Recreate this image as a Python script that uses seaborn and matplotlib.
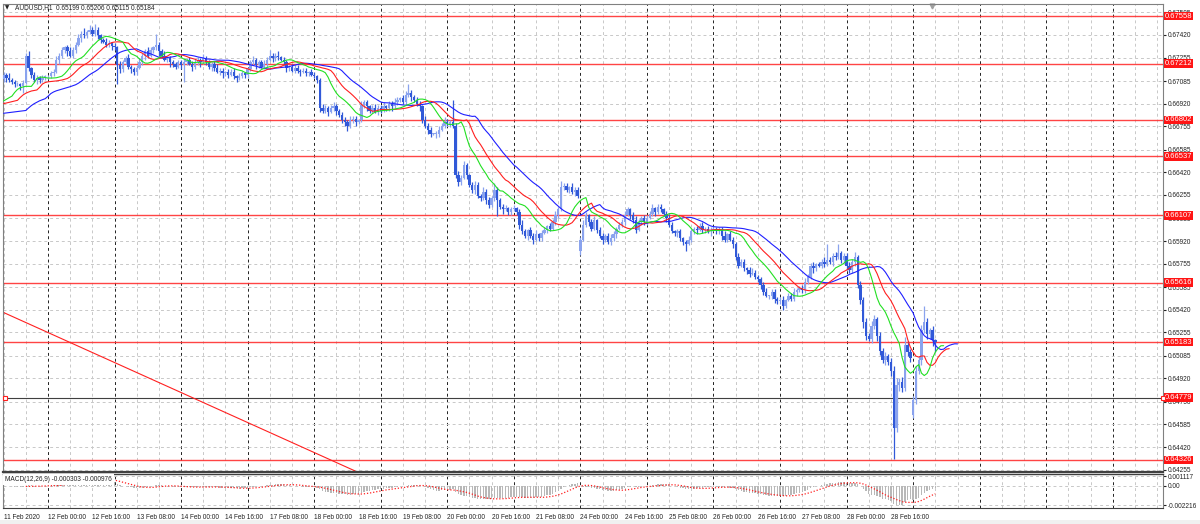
import numpy as np
import pandas as pd
import matplotlib
matplotlib.use("Agg")
import matplotlib.pyplot as plt
from matplotlib.patches import Rectangle
import seaborn as sns

# ==========================================
# DATA (hourly AUDUSD, prices in pips: 6712 -> 0.6712)
# ==========================================

close_feb11 = [6713, 6711, 6709, 6708, 6706, 6706, 6705, 6707, 6727, 6718, 6713, 6709, 6711, 6709, 6711, 6712]
close_feb12 = [6712, 6714, 6715, 6724, 6727, 6731, 6733, 6730, 6727, 6731, 6735, 6740, 6743, 6742, 6744, 6746, 6743, 6746, 6742, 6738, 6737, 6735, 6736, 6734]
close_feb13 = [6733, 6720, 6717, 6722, 6725, 6719, 6717, 6715, 6718, 6722, 6727, 6730, 6727, 6731, 6733, 6735, 6730, 6727, 6724, 6725, 6722, 6721, 6719, 6722]
close_feb14 = [6720, 6722, 6724, 6721, 6719, 6722, 6724, 6722, 6725, 6722, 6719, 6721, 6718, 6715, 6716, 6714, 6715, 6713, 6715, 6712, 6711, 6712, 6714, 6713]
close_feb17 = [6717, 6722, 6724, 6720, 6722, 6719, 6721, 6724, 6727, 6725, 6727, 6726, 6724, 6722, 6718, 6719, 6716, 6718, 6716, 6715, 6716, 6714, 6715, 6713]
close_feb18 = [6712, 6709, 6689, 6687, 6689, 6686, 6689, 6690, 6687, 6684, 6680, 6679, 6676, 6680, 6681, 6679, 6680, 6691, 6693, 6690, 6687, 6689, 6686, 6689]
close_feb19 = [6687, 6690, 6689, 6692, 6690, 6693, 6695, 6696, 6693, 6698, 6700, 6697, 6695, 6692, 6690, 6680, 6676, 6673, 6670, 6670, 6670, 6673, 6676, 6679]
close_feb20 = [6677, 6679, 6676, 6640, 6635, 6638, 6647, 6640, 6633, 6629, 6633, 6625, 6623, 6628, 6622, 6618, 6623, 6629, 6622, 6617, 6615, 6616, 6613, 6615]
close_feb21 = [6616, 6613, 6604, 6599, 6596, 6600, 6596, 6593, 6597, 6594, 6598, 6600, 6603, 6601, 6606, 6611, 6615, 6631, 6632, 6629, 6631, 6628, 6629, 6625]
close_feb24 = [6593, 6604, 6611, 6606, 6601, 6607, 6600, 6596, 6593, 6596, 6591, 6594, 6597, 6601, 6604, 6606, 6611, 6615, 6611, 6607, 6600, 6606, 6609, 6606]
close_feb25 = [6609, 6612, 6616, 6613, 6617, 6615, 6612, 6609, 6604, 6599, 6598, 6599, 6594, 6591, 6590, 6593, 6599, 6601, 6600, 6603, 6600, 6601, 6599, 6600]
close_feb26 = [6601, 6599, 6600, 6596, 6593, 6597, 6593, 6590, 6580, 6574, 6577, 6572, 6571, 6568, 6569, 6566, 6564, 6560, 6555, 6552, 6552, 6555, 6550, 6548]
close_feb27 = [6549, 6545, 6549, 6552, 6550, 6555, 6556, 6558, 6556, 6562, 6566, 6574, 6572, 6575, 6574, 6577, 6575, 6578, 6577, 6581, 6580, 6583, 6578, 6581]
close_feb28 = [6574, 6571, 6577, 6580, 6560, 6549, 6533, 6523, 6521, 6530, 6535, 6523, 6512, 6505, 6508, 6504, 6497, 6456, 6487, 6489, 6485, 6516, 6511, 6507]
close_mar02 = [6476, 6497, 6505, 6527, 6533, 6524, 6527, 6519.9, 6518.4]

first_open = 6710
gap_bars = [208, 328]          # week opens (24 Feb, 2 Mar)
gap_opens = [6585, 6465]

# wick sizes above / below the body, in pips
up_wick = [2, 1, 3, 2, 1, 2, 1, 2, 2, 3, 1, 2, 2, 1, 2, 1,
           1, 2, 2, 3, 2, 2, 1, 2, 3, 2, 2, 3, 2, 4, 2, 3, 2, 4, 2, 1, 2, 3, 2, 1,
           2, 1, 3, 2, 2, 3, 1, 2, 2, 3, 2, 2, 3, 2, 1, 8, 2, 2, 3, 1, 2, 2, 1, 2,
           2, 3, 1, 2, 2, 3, 2, 1, 3, 2, 2, 1, 2, 3, 2, 2, 1, 2, 2, 3, 1, 2, 2, 1,
           2, 2, 3, 1, 2, 2, 3, 2, 4, 2, 2, 3, 1, 2, 2, 1, 2, 3, 2, 1, 2, 2, 1, 2,
           2, 1, 2, 3, 2, 1, 2, 3, 2, 1, 2, 2, 1, 3, 2, 2, 1, 3, 2, 2, 1, 2, 3, 2,
           2, 3, 1, 2, 2, 3, 2, 1, 2, 3, 6, 2, 1, 2, 2, 1, 3, 2, 2, 1, 2, 3, 2, 3,
           2, 1, 16, 2, 3, 2, 3, 2, 1, 2, 3, 2, 1, 3, 2, 2, 2, 5, 2, 1, 2, 2, 1, 2,
           2, 1, 2, 3, 2, 1, 2, 2, 3, 1, 2, 2, 1, 2, 2, 3, 2, 5, 2, 2, 1, 3, 2, 2,
           2, 3, 2, 1, 2, 3, 1, 2, 2, 1, 2, 3, 2, 1, 2, 2, 3, 2, 1, 2, 3, 2, 1, 2,
           2, 2, 3, 1, 2, 2, 1, 2, 3, 2, 1, 2, 2, 1, 2, 3, 2, 1, 2, 2, 3, 1, 2, 2,
           2, 1, 2, 2, 3, 1, 2, 2, 1, 3, 2, 2, 1, 2, 3, 2, 1, 2, 2, 3, 1, 2, 2, 1,
           2, 3, 1, 2, 2, 3, 2, 1, 2, 3, 2, 2, 3, 1, 2, 2, 3, 12, 2, 2, 3, 7, 2, 2,
           2, 3, 2, 4, 2, 3, 2, 3, 2, 4, 3, 2, 3, 2, 3, 2, 3, 4, 5, 3, 4, 6, 3, 2,
           3, 4, 3, 4, 12, 3, 2, 3, 0.7]
down_wick = [2, 3, 1, 2, 2, 1, 3, 5, 1, 2, 2, 1, 3, 2, 1, 2,
             2, 1, 2, 1, 3, 2, 2, 3, 1, 2, 2, 1, 3, 2, 2, 1, 2, 2, 3, 2, 1, 2, 2, 3,
             2, 14, 3, 2, 1, 2, 3, 2, 2, 1, 2, 3, 2, 1, 2, 2, 3, 2, 1, 2, 3, 2, 2, 1,
             3, 12, 2, 1, 3, 2, 2, 3, 1, 2, 2, 3, 2, 1, 2, 3, 2, 2, 1, 2, 3, 2, 1, 2,
             2, 1, 2, 3, 2, 1, 2, 2, 1, 3, 2, 2, 1, 2, 3, 2, 1, 2, 2, 3, 1, 2, 2, 1,
             1, 2, 3, 2, 2, 3, 1, 2, 3, 2, 2, 3, 4, 2, 2, 3, 2, 1, 2, 3, 2, 2, 1, 2,
             2, 1, 2, 2, 3, 1, 2, 2, 1, 2, 1, 3, 2, 2, 3, 2, 2, 3, 2, 1, 3, 2, 1, 2,
             1, 2, 2, 2, 3, 2, 1, 3, 2, 2, 3, 2, 2, 1, 3, 2, 1, 2, 12, 2, 3, 1, 2, 2,
             1, 2, 3, 2, 2, 3, 2, 3, 1, 2, 2, 1, 2, 2, 1, 2, 2, 1, 2, 1, 2, 2, 3, 2,
             3, 1, 2, 3, 2, 1, 2, 2, 3, 2, 1, 2, 2, 3, 1, 2, 2, 1, 3, 2, 2, 1, 2, 2,
             2, 1, 2, 3, 1, 2, 2, 3, 2, 1, 2, 3, 2, 2, 5, 1, 2, 2, 3, 1, 2, 2, 1, 3,
             1, 2, 2, 3, 2, 2, 1, 3, 2, 2, 1, 2, 3, 2, 1, 2, 2, 3, 2, 1, 2, 2, 3, 2,
             2, 3, 2, 1, 2, 2, 3, 1, 2, 2, 1, 2, 3, 2, 1, 2, 2, 1, 2, 3, 2, 1, 2, 2,
             3, 2, 2, 3, 2, 3, 4, 3, 2, 3, 2, 4, 3, 2, 3, 2, 3, 23, 3, 4, 3, 2, 3, 3,
             2, 3, 2, 3, 2, 3, 3, 4, 6.9]

# Alligator lines at the left edge
jaw_start = 6685
teeth_start = 6692
lips_start = 6694

# horizontal levels and trendline
red_levels = [0.67558, 0.67212, 0.66802, 0.66537, 0.66107, 0.65616, 0.65183, 0.64326]
dark_level = 0.64779
trend_bars = [-1.3, 126.7]
trend_prices = [0.65411, 0.64246]

price_ticks = [0.64255, 0.64420, 0.64585, 0.64750, 0.64920, 0.65085, 0.65255,
               0.65420, 0.65585, 0.65755, 0.65920, 0.66085, 0.66255, 0.66420,
               0.66585, 0.66755, 0.66920, 0.67085, 0.67255, 0.67420, 0.67585]
macd_ticks = [0.001117, 0.0, -0.002216]
macd_tick_labels = ["0.001117", "0.00", "-0.002216"]

date_labels = ["11 Feb 2020", "12 Feb 00:00", "12 Feb 16:00", "13 Feb 08:00",
               "14 Feb 00:00", "14 Feb 16:00", "17 Feb 08:00", "18 Feb 00:00",
               "18 Feb 16:00", "19 Feb 08:00", "20 Feb 00:00", "20 Feb 16:00",
               "21 Feb 08:00", "24 Feb 00:00", "24 Feb 16:00", "25 Feb 08:00",
               "26 Feb 00:00", "26 Feb 16:00", "27 Feb 08:00", "28 Feb 00:00",
               "28 Feb 16:00"]
date_bars = list(range(0, 16 * len(date_labels), 16))

header = "AUDUSD,H1  0.65199 0.65206 0.65115 0.65184"
macd_header = "MACD(12,26,9) -0.000303 -0.000976"

# ==========================================
# PREPARE SERIES
# ==========================================

closes = np.array(close_feb11 + close_feb12 + close_feb13 + close_feb14 + close_feb17
                  + close_feb18 + close_feb19 + close_feb20 + close_feb21 + close_feb24
                  + close_feb25 + close_feb26 + close_feb27 + close_feb28 + close_mar02) / 10000
n = len(closes)
bars = np.arange(n)
opens = np.r_[first_open / 10000, closes[:-1]]
for b, o in zip(gap_bars, gap_opens):
    opens[b] = o / 10000
highs = np.maximum(opens, closes) + np.array(up_wick) / 10000
lows = np.minimum(opens, closes) - np.array(down_wick) / 10000
median = (highs + lows) / 2


def smma(values, period, start):
    out = []
    s = start
    for v in values:
        s = (s * (period - 1) + v) / period
        out.append(s)
    return np.array(out)


def alligator(period, shift, start):
    vals = smma(median, period, start / 10000)
    return pd.DataFrame({"bar": np.r_[0, bars + shift], "price": np.r_[start / 10000, vals]})


jaw = alligator(13, 8, jaw_start)
teeth = alligator(8, 5, teeth_start)
lips = alligator(5, 3, lips_start)

s = pd.Series(closes)
macd = s.ewm(span=12, adjust=False).mean() - s.ewm(span=26, adjust=False).mean()
signal = macd.rolling(9).mean()

# ==========================================
# FIGURE
# ==========================================

sns.set_style("white")
plt.rcParams['font.family'] = ['Liberation Sans', 'DejaVu Sans']
fs = 4.7

fig = plt.figure(figsize=(12, 5.24), dpi=100)
ax = fig.add_axes([3 / 1200, 1 - 472 / 524, 1160 / 1200, 468 / 524])
ax2 = fig.add_axes([3 / 1200, 1 - 508 / 524, 1160 / 1200, 34 / 524], sharex=ax)

x_left, x_right = -0.22, 418.1
ax.set_xlim(x_left, x_right)
ax.set_ylim(0.64238, 0.676457)
ax2.set_ylim(-0.00256, 0.001347)

# vertical grid: every 8 bars, day separators black
for b in range(0, 420, 8):
    day_start = (b - 16) % 24 == 0 and b >= 16
    for a in (ax, ax2):
        a.axvline(b, color="#222222" if day_start else "#c8c8c8",
                  lw=0.7, ls=(0, (3, 3)), zorder=0.5)

ax.set_yticks(price_ticks)
ax.set_yticklabels([f"{p:.5f}" for p in price_ticks])
ax.grid(axis="y", color="#c8c8c8", lw=0.7, ls=(0, (3, 3)))
ax2.set_yticks(macd_ticks)
ax2.set_yticklabels(macd_tick_labels)
ax2.grid(axis="y", color="#c8c8c8", lw=0.7, ls=(0, (3, 3)))

# candles
bull_color = "#8aa3ee"
bear_color = "#3159d8"
colors = np.where(closes >= opens, bull_color, bear_color)
ax.vlines(bars, lows, highs, colors=colors, lw=0.9, zorder=3)
body = np.maximum(np.abs(closes - opens), 0.00004)
ax.bar(bars, body, bottom=np.minimum(opens, closes), width=0.85,
       color=colors, linewidth=0, zorder=3)

# alligator
sns.lineplot(data=jaw, x="bar", y="price", ax=ax, color="#1f1fff", lw=0.8,
             estimator=None, sort=False, zorder=4)
sns.lineplot(data=teeth, x="bar", y="price", ax=ax, color="#ff1f1f", lw=0.8,
             estimator=None, sort=False, zorder=4)
sns.lineplot(data=lips, x="bar", y="price", ax=ax, color="#22e022", lw=0.8,
             estimator=None, sort=False, zorder=4)

# levels
ytrans = ax.get_yaxis_transform()
for lv in red_levels:
    ax.axhline(lv, color="#ff3030", lw=1.0, alpha=0.9, zorder=2)
ax.axhline(dark_level, color="#404040", lw=0.8, zorder=2)
for lv in red_levels + [dark_level]:
    ax.text(1.0017, lv, f"{lv:.5f}", transform=ytrans, color="white", fontsize=5.5,
            va="center", ha="left", clip_on=False, zorder=10,
            bbox=dict(boxstyle="square,pad=0.1", fc="#ff1414", ec="none"))
ax.plot([0.002, 1.0], [dark_level, dark_level], transform=ytrans, ls="none",
        marker="s", ms=2.8, mfc="white", mec="#ff2020", mew=0.8, clip_on=False, zorder=11)

ax.plot(trend_bars, trend_prices, color="#ff2020", lw=0.8, zorder=2)

# chart shift marker
ax.plot([334.8], [0.996], transform=ax.get_xaxis_transform(), marker="v",
        ms=3.5, color="#a0a0a0", clip_on=False)

# MACD
ax2.bar(bars, macd, width=0.5, color="#b8b8b8", linewidth=0, zorder=2)
sns.lineplot(x=bars, y=signal.values, ax=ax2, color="#ff2020", lw=0.9,
             linestyle=(0, (1, 1.5)), estimator=None, zorder=3)
ax2.text(0.002, 0.93, macd_header, transform=ax2.transAxes, fontsize=fs,
         va="top", ha="left", color="#222222", zorder=10,
         bbox=dict(boxstyle="square,pad=0.3", fc="white", ec="none"))

# axes styling
for a in (ax, ax2):
    a.yaxis.tick_right()
    a.set_xlabel("")
    a.set_ylabel("")
    a.tick_params(axis="y", length=2, labelsize=fs, pad=1.5, colors="#222222",
                  left=False, right=True)
    for sp in a.spines.values():
        sp.set_color("#808080")
        sp.set_linewidth(0.8)
ax.spines["bottom"].set_color("#404040")
ax.spines["bottom"].set_linewidth(1.6)
ax2.spines["top"].set_color("#404040")
ax2.spines["top"].set_linewidth(1.0)
ax2.spines["bottom"].set_color("#404040")
ax.tick_params(axis="x", labelbottom=False, length=0)

ax2.set_xticks(date_bars)
ax2.set_xticklabels(date_labels, ha="left")
ax2.tick_params(axis="x", length=2.5, labelsize=fs, pad=1.5, colors="#222222")
ax.set_xlim(x_left, x_right)

# header
fig.text(5 / 1200, 1 - 8 / 524, "\u25bc", fontsize=4, va="center", ha="left", color="#222222",
         family=["DejaVu Sans"])
fig.text(15 / 1200, 1 - 8 / 524, header, fontsize=fs, va="center", ha="left", color="#222222")

fig.patches.append(Rectangle((0, 0), 1, 4 / 524, transform=fig.transFigure,
                             fc="#f0f0f0", ec="none"))

fig.savefig("out.png", dpi=100)
